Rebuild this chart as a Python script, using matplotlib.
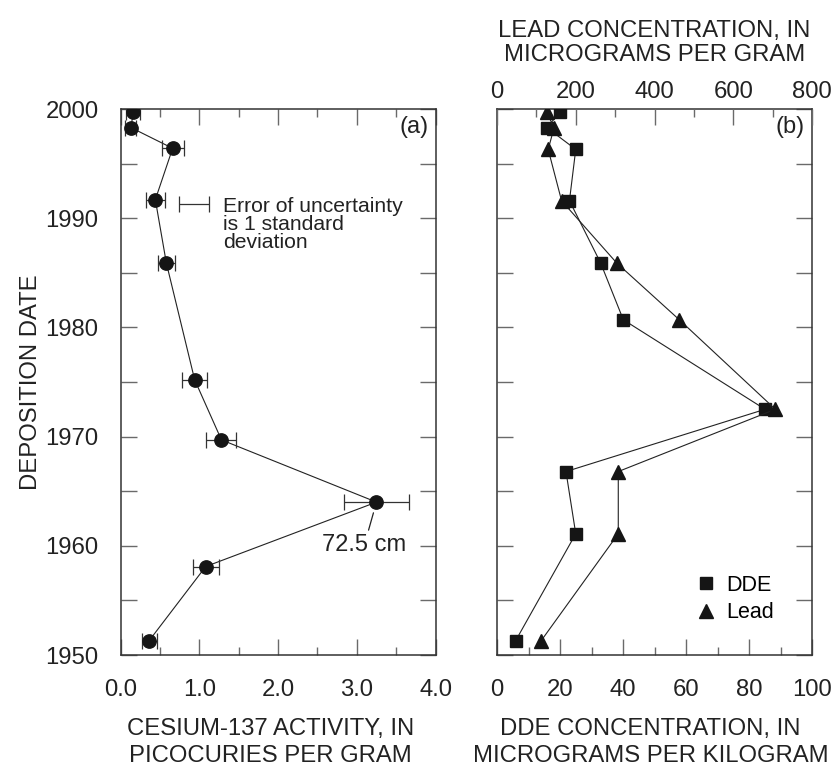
import matplotlib
matplotlib.use("Agg")
import matplotlib.pyplot as plt
from matplotlib.ticker import MultipleLocator, FixedLocator
from matplotlib.lines import Line2D

plt.rcParams['font.family'] = ['Liberation Sans', 'DejaVu Sans']

# ---------------- data ----------------
# Panel (a): Cesium-137
cs_date = [1999.7, 1998.3, 1996.4, 1991.7, 1985.9, 1975.2, 1969.7, 1964.0, 1958.1, 1951.3]
cs_value = [0.16, 0.13, 0.66, 0.44, 0.58, 0.94, 1.28, 3.25, 1.08, 0.36]
cs_err = [0.09, 0.07, 0.14, 0.12, 0.11, 0.16, 0.19, 0.41, 0.165, 0.095]

# sample error bar ("Error of uncertainty")
sample_x = [0.93]
sample_y = [1991.3]
sample_err = [0.195]

# Panel (b): DDE and lead
b_date = [1999.7, 1998.3, 1996.3, 1991.6, 1985.9, 1980.7, 1972.5, 1966.8, 1961.1, 1951.3]
dde = [20.0, 15.8, 25.0, 23.0, 32.9, 40.1, 85.1, 21.9, 25.0, 5.9]
lead = [126, 145, 130, 164, 304, 463, 707, 308, 308, 112]

cs_ticks = [0.0, 1.0, 2.0, 3.0, 4.0]
cs_ticklabels = ['0.0', '1.0', '2.0', '3.0', '4.0']
year_ticks = [1950, 1960, 1970, 1980, 1990, 2000]
dde_ticks = [0, 20, 40, 60, 80, 100]
lead_ticks = [0, 200, 400, 600, 800]

# ---------------- figure ----------------
W, H = 836, 767
fig = plt.figure(figsize=(W / 100, H / 100), dpi=100)

axA = fig.add_axes([120.7 / W, (H - 655) / H, 314.8 / W, 546 / H])
axB = fig.add_axes([497 / W, (H - 655) / H, 315 / W, 546 / H])

spine_col = '#333333'
tick_col = '#6a6a6a'
txt_col = '#222222'
lab_size = 17.2
tick_size = 17.2

for ax in (axA, axB):
    for s in ax.spines.values():
        s.set_color(spine_col)
        s.set_linewidth(1.1)
    ax.set_ylim(1950, 2000)
    ax.yaxis.set_major_locator(MultipleLocator(10))
    ax.yaxis.set_minor_locator(MultipleLocator(5))
    ax.tick_params(axis='both', which='both', direction='in', color=tick_col,
                   width=1.0, top=True, right=True, labelsize=tick_size)
    ax.tick_params(axis='x', which='major', length=11.5)
    ax.tick_params(axis='x', which='minor', length=5.5)
    ax.tick_params(axis='y', which='both', length=11.5)

# ---- panel (a)
axA.set_xlim(0, 4.0)
axA.xaxis.set_major_locator(FixedLocator(cs_ticks))
axA.set_xticklabels(cs_ticklabels)
axA.xaxis.set_minor_locator(MultipleLocator(0.5))
axA.set_yticks(year_ticks)
axA.tick_params(axis='x', pad=17.5)
axA.tick_params(axis='y', pad=16)

axA.plot(cs_value, cs_date, color=txt_col, lw=0.8, zorder=2)
axA.errorbar(cs_value, cs_date, xerr=cs_err, fmt='o', color='#151515',
             ms=9.6, ecolor='#333333', elinewidth=0.9, capsize=6, capthick=0.9, zorder=3)
axA.errorbar(sample_x, sample_y, xerr=sample_err, fmt='none', ecolor='#333333',
             elinewidth=0.9, capsize=6, capthick=0.9)
axA.text(1.3, 1991.3 + 0.65, 'Error of uncertainty\nis 1 standard\ndeviation',
         fontsize=15.2, va='top', ha='left', linespacing=0.95, color=txt_col)
axA.annotate('72.5 cm', xy=(cs_value[7], cs_date[7]), xytext=(3.095, 1960.05),
             fontsize=17, ha='center', va='center', color=txt_col,
             arrowprops=dict(arrowstyle='-', color=txt_col, lw=0.9,
                             shrinkA=1, shrinkB=8))
axA.text(0.978, 0.987, '(a)', transform=axA.transAxes, ha='right', va='top',
         fontsize=17, color=txt_col)
axA.set_xlabel('CESIUM-137 ACTIVITY, IN\nPICOCURIES PER GRAM', fontsize=lab_size,
               linespacing=1.28, color=txt_col)
axA.xaxis.set_label_coords(0.475, -0.116)
axA.xaxis.label.set_va('top')
axA.set_ylabel('DEPOSITION DATE', fontsize=lab_size, labelpad=2.5, color=txt_col)

# ---- panel (b)
axB.set_xlim(0, 100)
axB.set_xticks(dde_ticks)
axB.xaxis.set_minor_locator(MultipleLocator(10))
axB.tick_params(axis='y', labelleft=False)
axB.tick_params(axis='x', pad=17.5)
axB.plot(dde, b_date, color=txt_col, lw=0.8, marker='s', ms=8.8,
         mfc='#151515', mec='#151515', zorder=3)

axT = axB.twiny()
axT.set_xlim(0, 800)
axT.set_xticks(lead_ticks)
axT.xaxis.set_minor_locator(MultipleLocator(100))
for s in axT.spines.values():
    s.set_visible(False)
axT.tick_params(axis='x', which='both', direction='in', color=tick_col, width=1.0,
                labelsize=tick_size, pad=4.5)
axT.tick_params(axis='x', which='major', length=11.5)
axT.tick_params(axis='x', which='minor', length=5.5)
axT.plot(lead, b_date, color=txt_col, lw=0.8, marker='^', ms=10.5,
         mfc='#151515', mec='#151515', zorder=3)
axT.set_ylim(1950, 2000)
axT.set_xlabel('LEAD CONCENTRATION, IN\nMICROGRAMS PER GRAM', fontsize=lab_size,
               linespacing=1.15, labelpad=14, color=txt_col)

axB.text(0.978, 0.987, '(b)', transform=axB.transAxes, ha='right', va='top',
         fontsize=17, color=txt_col)
axB.set_xlabel('DDE CONCENTRATION, IN\nMICROGRAMS PER KILOGRAM', fontsize=lab_size,
               linespacing=1.28, color=txt_col)
axB.xaxis.set_label_coords(0.488, -0.116)
axB.xaxis.label.set_va('top')

handles = [Line2D([], [], ls='none', marker='s', ms=8.8, mfc='#151515', mec='#151515'),
           Line2D([], [], ls='none', marker='^', ms=10.5, mfc='#151515', mec='#151515')]
axB.legend(handles, ['DDE', 'Lead'], loc='lower left', bbox_to_anchor=(0.632, 0.058),
           frameon=False, fontsize=15.5, handlelength=0.9, handletextpad=0.5,
           labelspacing=0.3, borderpad=0, borderaxespad=0)

for t in axA.get_xticklabels() + axA.get_yticklabels() + axB.get_xticklabels() + axT.get_xticklabels():
    t.set_color(txt_col)

fig.savefig('out.png', dpi=100)
